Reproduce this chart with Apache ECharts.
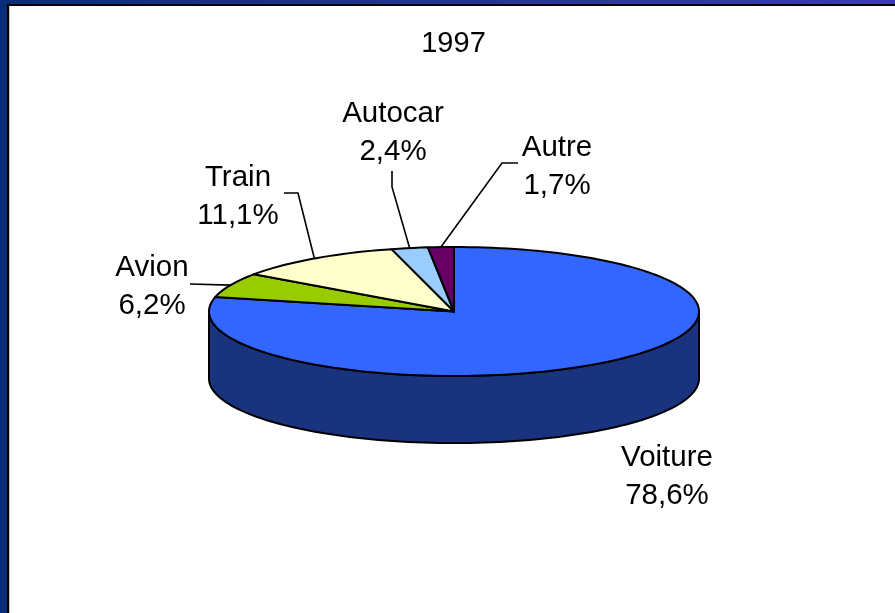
<!DOCTYPE html>
<html><head><meta charset="utf-8">
<style>html,body{margin:0;padding:0;background:#fff}#c{width:895px;height:613px}</style>
<script src="https://cdn.jsdelivr.net/npm/echarts@6/dist/echarts.min.js"></script>
</head><body><div id="c"></div>
<script>
const titleText = '1997';
const categories = ['Voiture', 'Avion', 'Train', 'Autocar', 'Autre'];
const shares = [78.6, 6.2, 11.1, 2.4, 1.7];
const colors = ['#3366FF', '#99CC00', '#FFFFCC', '#99CCFF', '#660066'];
const sideColors = ['#19337F', '#4C6600', '#7F7F66', '#4C667F', '#330033'];
const labelPos = [[667, 458], [152, 268], [238, 178], [393, 114], [557, 148]];
const elbows = [null, [[190, 284]], [[284, 193], [298, 193]], [[392, 171], [392, 187]], [[518, 163], [502, 163]]];
const DEPTH = 1.04; // slab height in y-axis units
const FONT = '"Liberation Sans", Arial, sans-serif';

const total = shares.reduce((a, b) => a + b, 0);
const starts = []; { let s = 0; shares.forEach(v => { starts.push(s); s += v; }); }
const pt = (pct, dy = 0) => { const t = pct / total * 2 * Math.PI; return [Math.sin(t), Math.cos(t) - dy]; };
const arc = (a, b, dy = 0) => {
  const n = Math.max(2, Math.ceil((b - a) * 2)), out = [];
  for (let i = 0; i <= n; i++) out.push(pt(a + (b - a) * i / n, dy));
  return out;
};

function renderSlice(params, api) {
  const i = params.dataIndex, a = starts[i], b = a + api.value(0);
  const c = p => api.coord(p);
  const children = [];
  const fa = Math.max(a, total * 0.25), fb = Math.min(b, total * 0.75);
  if (fb > fa) {
    children.push({ type: 'polygon', shape: { points: arc(fa, fb).concat(arc(fa, fb, DEPTH).reverse()).map(c) },
      style: { fill: sideColors[i], stroke: '#000', lineWidth: 2, lineJoin: 'round' } });
  }
  children.push({ type: 'polygon', shape: { points: [[0, 0]].concat(arc(a, b)).map(c) },
    style: { fill: colors[i], stroke: '#000', lineWidth: 2, lineJoin: 'round' } });
  if (elbows[i]) {
    children.push({ type: 'polyline', shape: { points: elbows[i].concat([c(pt(a + (b - a) / 2))]) },
      style: { fill: null, stroke: '#000', lineWidth: 1.6 } });
  }
  const txt = categories[i] + '\n' + shares[i].toFixed(1).replace('.', ',') + '%';
  children.push({ type: 'text', x: labelPos[i][0], y: labelPos[i][1] - 19,
    style: { text: txt, font: '29.5px ' + FONT, fill: '#000', align: 'center', verticalAlign: 'top', lineHeight: 38 } });
  return { type: 'group', children };
}

const chart = echarts.init(document.getElementById('c'), null, { renderer: 'canvas' });
chart.setOption({
  animation: false,
  backgroundColor: '#fff',
  title: { text: titleText, left: 453.5, top: 29, padding: 0, textAlign: 'center',
    textStyle: { fontFamily: FONT, fontSize: 29, fontWeight: 'normal', color: '#000' } },
  grid: { left: 209, width: 490, top: 247, height: 129 },
  xAxis: { type: 'value', min: -1, max: 1, show: false },
  yAxis: { type: 'value', min: -1, max: 1, show: false },
  graphic: [
    { type: 'rect', z: 100, shape: { x: 0, y: 0, width: 895, height: 4 },
      style: { fill: new echarts.graphic.LinearGradient(0, 0, 1, 0, [{ offset: 0, color: '#0A2D78' }, { offset: 1, color: '#3B3BB0' }]) } },
    { type: 'rect', z: 100, shape: { x: 0, y: 4, width: 895, height: 2 }, style: { fill: '#000' } },
    { type: 'rect', z: 100, shape: { x: 0, y: 0, width: 7, height: 613 }, style: { fill: '#0A2D78' } },
    { type: 'rect', z: 100, shape: { x: 7, y: 4, width: 2, height: 609 }, style: { fill: '#000' } },
    { type: 'rect', z: 100, shape: { x: 9, y: 6, width: 1, height: 607 }, style: { fill: '#C8C8D0' } }
  ],
  series: [{
    type: 'custom', coordinateSystem: 'cartesian2d', clip: false, silent: true,
    data: shares.map(v => [v]),
    encode: { x: 0, y: 0 },
    renderItem: renderSlice
  }]
});
</script></body></html>
